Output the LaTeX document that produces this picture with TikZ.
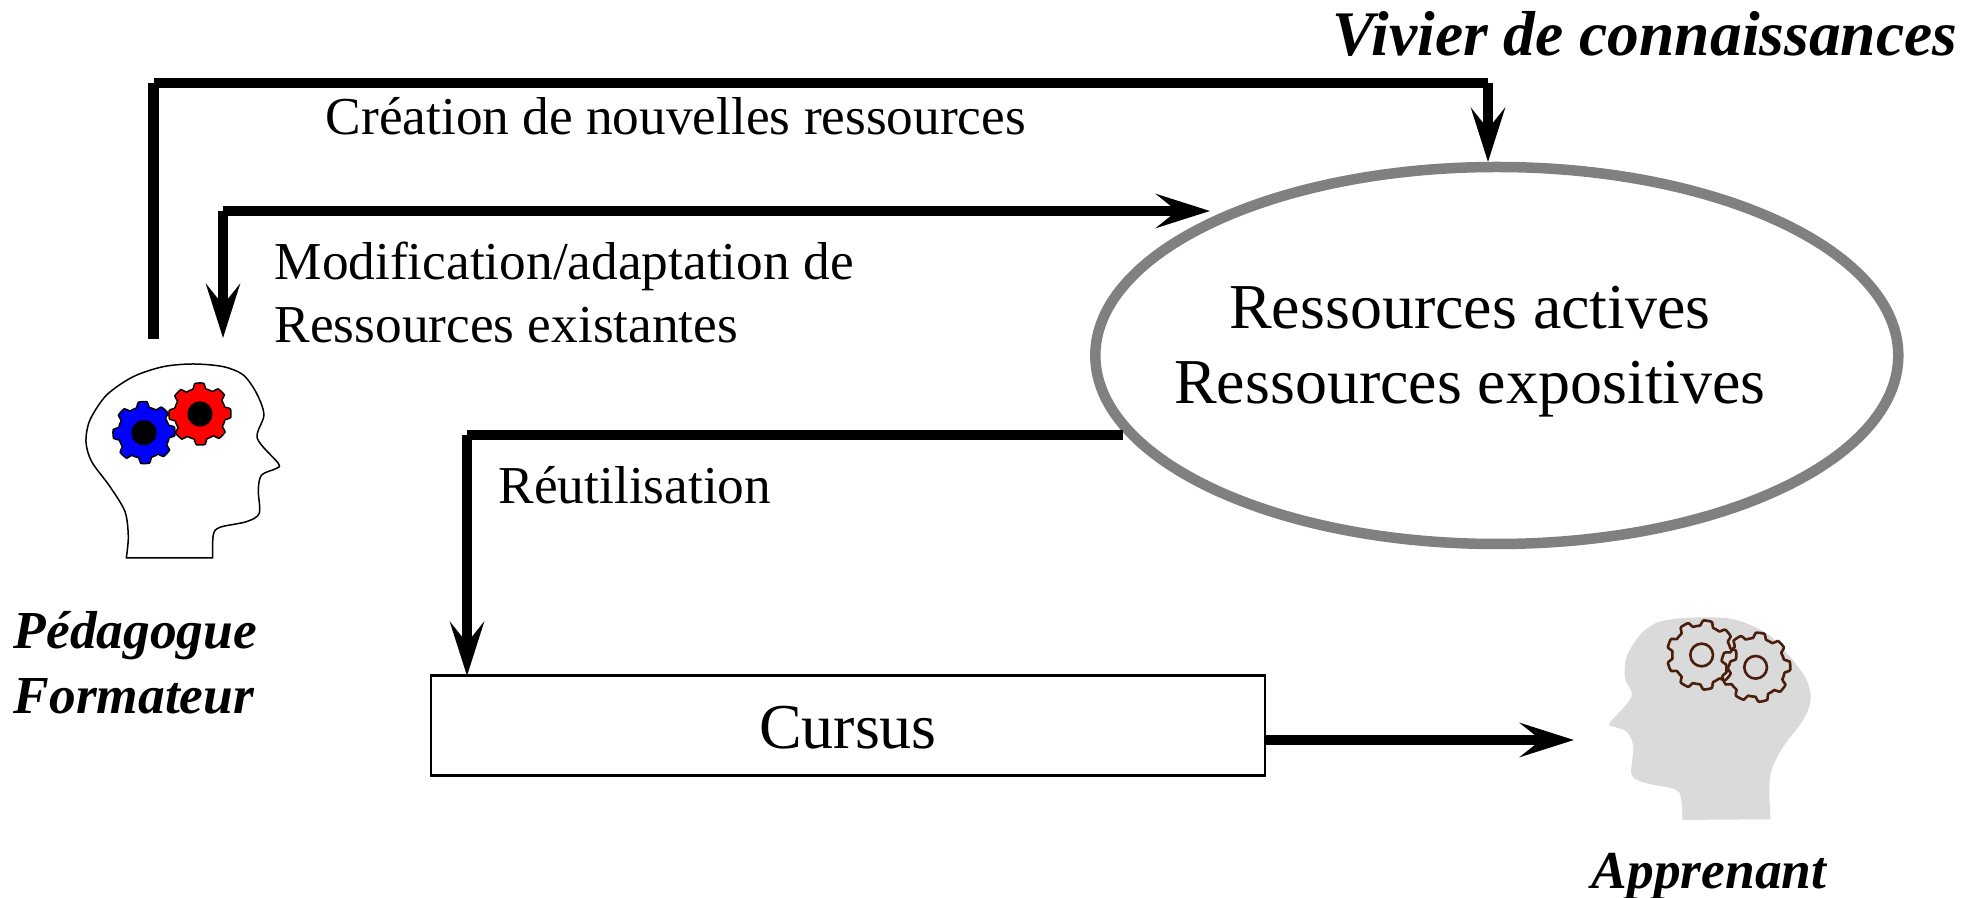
\documentclass[tikz,border=0pt]{standalone}
\usepackage{fontspec}
\setmainfont{Liberation Serif}
\usetikzlibrary{arrows.meta}
\usetikzlibrary{shapes.geometric}

\newcommand{\roue}[7]{
\draw[#1, shift={(#2,#3)}] plot[domain=0:360, samples=181]
({(#4+#5*max(-1,min(1,2.5*cos(#6*\x+#7))))*cos(\x)},
 {(#4+#5*max(-1,min(1,2.5*cos(#6*\x+#7))))*sin(\x)}) -- cycle;
}

\begin{document}
\begin{tikzpicture}[%
x=.1mm, y=-.1mm,
>={Stealth[length=5.4mm, width=3.4mm, inset=2.1mm]},
trait/.style={line width=1.07mm},
fleche/.style={line width=1.07mm, ->},
texte/.style={anchor=base west, inner sep=0, font=\fontsize{15.17}{18}\selectfont},
grand/.style={anchor=base, inner sep=0, font=\fontsize{18.2}{21}\selectfont},
titre/.style={anchor=base west, inner sep=0, font=\fontsize{15.2}{18}\selectfont\bfseries\itshape},
contour/.style={draw=black, line width=.15mm},
brun/.style={draw=brun, line width=.26mm},
]
\definecolor{brun}{RGB}{74,30,10}
\definecolor{peau}{RGB}{218,218,218}
\definecolor{bord}{RGB}{128,128,128}

\useasboundingbox (0,0) rectangle (1978,898);

\node[ellipse, draw=bord, line width=1.05mm, minimum width=80.3mm, minimum height=37.7mm, inner sep=0](vivier) at (1496.8,355.5){};
\node[draw=black, line width=.22mm, minimum width=83.4mm, minimum height=10mm, inner sep=0](cursus) at (848,725.5){};

\node[grand](actives) at (1470,328.5){Ressources actives};
\node[grand](expositives) at (1470,404){Ressources expositives};
\node[grand](nomcursus) at (848,749){Cursus};

\node[titre, anchor=base, font=\fontsize{18.07}{21}\selectfont\bfseries\itshape](nomvivier) at (1645,56){Vivier de connaissances};
\node[titre](pedagogue) at (13,648.5){Pédagogue};
\node[titre](formateur) at (13,713.5){Formateur};
\node[titre, anchor=base](apprenant) at (1709,889){Apprenant};

\node[texte](creation) at (325,135){Création de nouvelles ressources};
\node[texte](modif) at (274,280){Modification/adaptation de};
\node[texte](existantes) at (274,343){Ressources existantes};
\node[texte](reutil) at (498,504){Réutilisation};

\coordinate(creation0) at (153.5,339);
\coordinate(creation1) at (153.5,83);
\coordinate(creation2) at (1488,83);
\coordinate(creation3) at (1488,162);
\draw[trait] (creation0)--(creation1);
\draw[trait] (creation1)--(creation2);
\draw[fleche] (creation2)--(creation3);

\coordinate(modif0) at (1210,211);
\coordinate(modif1) at (223,211);
\coordinate(modif2) at (223,338);
\draw[fleche] (modif1)--(modif0);
\draw[fleche] (modif1)--(modif2);

\coordinate(reutil0) at (1123,435);
\coordinate(reutil1) at (467,435);
\coordinate(reutil2) at (467,676);
\draw[trait] (reutil0)--(reutil1);
\draw[fleche] (reutil1)--(reutil2);

\coordinate(cursus0) at (1264,740);
\coordinate(cursus1) at (1574,740);
\draw[fleche] (cursus0)--(cursus1);

\begin{scope}[shift={(50,340)}, x=.03333mm, y=-.03333mm]
\draw[contour, line join=round] plot[smooth] coordinates {(229,654) (235,590) (225,515) (180,440) (125,365) (108,305) (120,240) (170,165) (250,110) (340,80) (430,72) (520,80) (580,105) (620,160) (642,225) (622,295) (685,370) (680,385) (635,405) (625,450) (628,520) (590,545) (510,562) (490,585) (488,654)} -- cycle;
\roue{contour, fill=blue}{282}{278}{85}{8}{8}{20}
\roue{contour, fill=red}{450}{222}{85}{8}{8}{10}
\fill[black] (282,278) circle (38);
\fill[black] (450,222) circle (38);
\end{scope}

\begin{scope}[shift={(1580,600)}, x=.03333mm, y=-.03333mm]
\fill[peau] plot[smooth] coordinates {(307,660) (305,610) (290,570) (200,550) (155,525) (160,440) (140,395) (95,378) (90,368) (155,290) (135,235) (140,170) (180,105) (230,68) (300,55) (400,52) (470,60) (560,100) (630,170) (680,240) (692,300) (670,360) (610,440) (575,510) (568,580) (572,658)} -- cycle;
\roue{brun}{365}{165}{96}{8}{9}{0}
\roue{brun}{527}{202}{96}{8}{9}{20}
\draw[brun] (365,165) circle (34);
\draw[brun] (527,202) circle (34);
\end{scope}

\end{tikzpicture}
\end{document}
